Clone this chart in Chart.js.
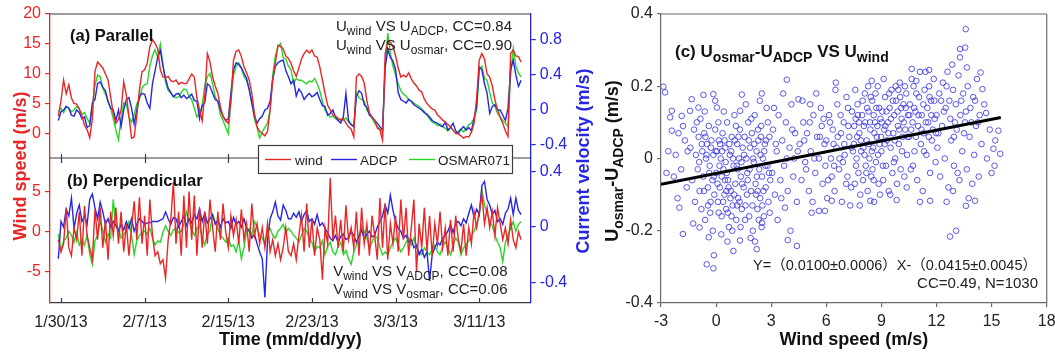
<!DOCTYPE html>
<html>
<head>
<meta charset="utf-8">
<script src="https://cdn.jsdelivr.net/npm/chart.js@4.4.1/dist/chart.umd.min.js"></script>
<style>
  html, body { margin: 0; padding: 0; background: #fff; }
  #wrap { position: relative; width: 1055px; height: 353px; }
  canvas { position: absolute; top: 0; }
</style>
</head>
<body>
<div id="wrap">
  <canvas id="parallel" width="600" height="158" style="left:0"></canvas>
  <canvas id="perp" width="600" height="353" style="left:0"></canvas>
  <canvas id="diff" width="455" height="353" style="left:600px"></canvas>
</div>
<script>
// hourly records resampled every 6 h, day 0 = 1/30/13
var firstDay = -0.25;
var stepDays = 0.25;

var dateTickDays = [0, 8, 16, 24, 32, 40];
var dateLabels = ['1/30/13', '2/7/13', '2/15/13', '2/23/13', '3/3/13', '3/11/13'];

// along-shore (parallel) components
var windPar = [3.0,
  5.5, 9.0, 6.7, 8.2,   6.0, 5.1, 5.0, 4.2,   3.0, 1.5, 0.7, -0.6,   2.5, 10.4, 12.0, 11.5,
  11.0, 10.0, 9.0, 6.2,   3.4, 1.8, 2.5, 4.0,   8.7, 6.5, 3.0, -0.7,   -0.5, 3.0, 7.3, 10.4,
  10.7, 11.8, 14.6, 15.7,   15.1, 14.2, 10.7, 9.5,   9.4, 9.6, 8.9, 8.7,   9.0, 8.3, 8.6, 8.4,
  8.4, 9.2, 10.0, 9.5,   6.0, 4.0, 2.2, 6.5,   13.4, 12.0, 9.5, 8.0,   6.8, 4.5, 2.9, 2.2,
  1.8, 5.5, 12.3, 13.8,   14.0, 12.9, 11.2, 10.2,   9.0, 6.8, 3.4, 1.2,   0.4, 0.1, -0.3, 0.4,
  4.0, 9.0, 11.8, 14.8,   14.6, 14.2, 13.0, 12.6,   11.8, 10.5, 9.6, 11.0,   12.5, 13.4, 14.0, 13.5,
  14.0, 13.0, 12.8, 11.2,   9.0, 6.8, 4.8, 4.0,   3.2, 3.0, 2.6, 2.3,   2.6, 1.8, 1.2, 0.8,
  -0.5, 9.5, 10.0, 9.6,   8.5, 5.6, 3.5, 2.8,   2.3, 1.0, 0.7, -1.0,   13.4, 15.5, 15.3, 14.5,
  13.0, 11.0, 9.5, 9.8,   9.5, 10.2, 9.2, 8.5,   8.0, 7.3, 7.0, 5.8,   5.1, 4.6, 4.2, 4.0,
  3.2, 2.8, 2.3, 2.0,   1.6, 1.2, 0.6, 0.1,   0.0, -0.3, -0.7, -0.4,   -0.5, 0.3, 1.8, 6.0,
  12.3, 13.4, 12.5, 10.0,   9.5, 8.0, 5.7, 4.0,   2.8, 1.8, 0.5, -0.4,   13.4, 14.0, 13.0, 12.9,
  12.0];

var adcpPar = [-0.12,
  -0.02, 0.00, 0.04, 0.02,   -0.06, -0.07, 0.00, -0.03,   -0.10, -0.08, -0.20, -0.18,   0.08, 0.12, 0.30, 0.32,
  0.26, 0.22, 0.10, 0.02,   0.00, -0.12, 0.00, -0.19,   0.00, 0.12, 0.14, 0.02,   -0.16, 0.00, 0.15, 0.19,
  0.18, 0.08, 0.02, 0.30,   0.45, 0.60, 0.68, 0.50,   0.36, 0.25, 0.20, 0.15,   0.18, 0.19, 0.14, 0.17,
  0.13, 0.15, 0.18, 0.11,   0.10, -0.10, 0.05, 0.08,   0.30, 0.27, 0.19, 0.12,   0.10, 0.00, -0.07, -0.12,
  -0.10, 0.20, 0.46, 0.54,   0.52, 0.48, 0.42, 0.36,   0.23, 0.08, -0.07, -0.15,   -0.10, -0.07, 0.00, 0.02,
  0.10, 0.35, 0.50, 0.54,   0.56, 0.57, 0.45, 0.38,   0.30, 0.34, 0.16, 0.24,   0.20, 0.12, 0.16, 0.19,
  0.15, 0.17, 0.20, 0.12,   0.05, 0.04, -0.06, -0.04,   0.00, -0.08, -0.12, -0.15,   -0.08, 0.19, -0.12, -0.17,
  -0.19, 0.15, 0.22, 0.19,   0.06, 0.03, -0.06, -0.08,   -0.12, -0.15, -0.19, -0.23,   0.49, 0.69, 0.60, 0.56,
  0.46, 0.20, 0.12, 0.10,   0.08, 0.12, 0.10, 0.06,   0.04, 0.02, 0.00, -0.03,   -0.05, -0.08, -0.12, -0.14,
  -0.15, -0.18, -0.19, -0.14,   -0.23, -0.20, -0.15, -0.24,   -0.27, -0.22, -0.19, -0.23,   -0.20, -0.24, -0.10, 0.04,
  0.49, 0.46, 0.30, 0.19,   -0.04, 0.04, 0.06, 0.00,   0.00, -0.06, -0.12, 0.02,   0.46, 0.57, 0.40, 0.27,
  0.34];

var osmarPar = [-0.02,
  0.02, -0.03, 0.04, 0.02,   -0.02, 0.00, 0.04, 0.01,   -0.05, -0.03, -0.10, -0.15,   0.05, 0.28, 0.40, 0.38,
  0.25, 0.18, 0.10, 0.02,   -0.10, -0.23, -0.34, -0.10,   0.08, 0.06, -0.08, -0.14,   -0.05, 0.07, 0.12, 0.25,
  0.29, 0.30, 0.50, 0.62,   0.69, 0.60, 0.75, 0.52,   0.32, 0.22, 0.19, 0.16,   0.14, 0.15, 0.20, 0.24,
  0.23, 0.15, 0.12, 0.02,   -0.08, -0.04, 0.05, 0.28,   0.38, 0.42, 0.30, 0.15,   0.10, -0.06, -0.12, -0.20,
  -0.27, 0.10, 0.40, 0.50,   0.54, 0.48, 0.38, 0.34,   0.24, 0.08, -0.10, -0.20,   -0.32, -0.25, -0.20, -0.15,
  0.00, 0.40, 0.62, 0.72,   0.76, 0.60, 0.58, 0.50,   0.46, 0.30, 0.36, 0.34,   0.34, 0.32, 0.30, 0.33,
  0.32, 0.36, 0.30, 0.22,   0.10, 0.00, -0.04, -0.08,   -0.07, -0.10, -0.12, -0.10,   -0.12, -0.09, -0.14, -0.16,
  -0.19, 0.20, 0.14, 0.12,   0.10, 0.00, -0.04, -0.10,   -0.15, -0.19, -0.22, -0.26,   0.46, 0.88, 0.65, 0.50,
  0.40, 0.30, 0.22, 0.18,   0.16, 0.12, 0.10, 0.08,   0.06, 0.04, 0.01, -0.02,   -0.06, -0.10, -0.14, -0.15,
  -0.18, -0.16, -0.19, -0.21,   -0.24, -0.20, -0.23, -0.27,   -0.24, -0.22, -0.25, -0.21,   -0.17, -0.15, -0.10, 0.00,
  0.46, 0.50, 0.36, 0.34,   0.20, 0.08, 0.04, -0.04,   -0.08, -0.12, -0.15, -0.19,   0.40, 0.70, 0.50, 0.42,
  0.38];

// cross-shore (perpendicular) components
var windPerp = [-1.0,
  -2.5, -1.5, 2.9, -2.0,   -3.0, 0.5, -1.0, 2.5,   -3.0, 3.2, -0.5, -2.0,   -3.5, 2.8, -1.0, 3.0,
  -2.0, 1.5, -3.5, 2.5,   -0.5, 3.0, -1.5, 2.5,   -2.5, 1.0, -3.0, 0.5,   3.8, -1.0, 4.3, -1.5,
  2.0, -3.0, 4.0, -0.5,   -3.0, -2.5, -4.0, -3.5,   -5.8, -1.0, 1.5, 6.2,   -1.5, 2.5, -3.0, 4.5,
  -2.0, 5.0, -1.0, 4.5,   -3.0, 3.0, -2.0, 2.5,   -1.5, 4.0, 0.5, -2.5,   2.5, -1.0, 3.5, 0.0,
  -2.0, 2.0, -0.5, 1.5,   -1.5, 2.8, -1.0, 1.0,   -2.5, 3.5, -0.5, 1.0,   -1.5, 0.5, -2.0, 1.0,
  -2.5, -1.0, -3.0, -1.5,   -3.5, -2.0, 0.5, -2.5,   -3.0, -1.5, -3.5, -0.5,   2.0, -2.5, 3.5, -2.0,
  1.5, -3.0, 0.5, -1.0,   -6.0, 0.5, -1.5, 6.7,   -1.0, 2.0, -2.0, 1.5,   -2.5, 3.3, -1.0, 0.5,
  -2.0, 2.5, -3.0, 3.0,   -1.5, 1.0, -3.0, 2.0,   -0.5, -3.5, 4.2, -2.0,   3.5, -3.5, 1.0, -1.5,
  2.0, -2.5, 4.0, -1.0,   3.0, -3.0, 0.5, 4.0,   -5.0, 1.0, -2.0, 3.0,   -2.5, 2.0, -3.0, 1.0,
  -1.5, 2.5, -2.0, 0.5,   -3.0, 1.5, -2.5, 2.0,   -1.0, -2.5, 1.0, -3.0,   0.5, -1.5, 2.5, 0.5,
  2.5, 4.7, 1.0, 3.0,   0.5, 2.5, -0.5, 3.0,   1.0, -1.0, 0.5, -1.5,   1.5, -1.0, -2.0, 0.0,
  -1.0];

var adcpPerp = [-0.23,
  0.04, 0.00, 0.13, 0.08,   0.21, -0.01, 0.10, 0.16,   0.04, 0.08, 0.02, 0.20,   0.24, 0.14, 0.06, 0.18,
  0.11, 0.02, 0.06, 0.00,   0.04, 0.01, -0.03, 0.02,   -0.02, 0.04, -0.01, 0.06,   -0.03, 0.02, 0.06, 0.04,
  0.02, 0.03, 0.03, 0.04,   0.04, 0.04, 0.05, 0.06,   0.11, 0.06, 0.02, 0.07,   0.06, 0.00, 0.04, 0.08,
  0.01, 0.06, 0.03, 0.09,   0.06, 0.13, 0.04, 0.10,   0.03, 0.06, 0.09, 0.02,   0.05, 0.00, 0.06, 0.03,
  0.04, -0.01, 0.07, 0.02,   0.04, 0.00, 0.06, -0.01,   -0.03, -0.08, -0.05, -0.12,   -0.18, -0.23, -0.51, -0.10,
  0.06, 0.11, 0.18, 0.08,   0.05, 0.16, 0.12, 0.06,   0.06, 0.10, 0.07, 0.11,   0.04, 0.09, 0.12, 0.04,
  0.06, 0.02, 0.09, 0.01,   0.03, -0.01, -0.04, -0.08,   -0.10, -0.06, -0.11, -0.07,   -0.05, -0.09, -0.08, -0.03,
  -0.06, -0.11, -0.07, -0.02,   -0.09, -0.05, -0.03, -0.07,   -0.06, 0.00, 0.04, 0.08,   0.16, 0.10, 0.23, 0.12,
  0.04, -0.01, -0.03, -0.08,   -0.06, -0.11, -0.09, -0.15,   -0.13, -0.20, -0.16, -0.22,   -0.18, -0.39, -0.20, -0.15,
  -0.11, -0.13, -0.08, -0.06,   -0.03, 0.02, -0.04, 0.03,   0.04, 0.01, 0.06, 0.03,   0.10, 0.16, 0.07, 0.13,
  0.09, 0.30, 0.33, 0.20,   0.16, 0.09, 0.12, 0.04,   0.06, 0.02, 0.10, 0.13,   0.21, 0.09, 0.21, 0.12,
  0.09];

var osmarPerp = [-0.05,
  -0.17, -0.10, -0.08, -0.03,   -0.06, -0.11, -0.04, -0.13,   -0.09, -0.13, -0.06, -0.20,   -0.27, -0.10, -0.06, 0.04,
  -0.02, -0.11, -0.05, -0.08,   0.20, 0.02, -0.01, -0.08,   -0.05, -0.03, 0.04, -0.06,   -0.20, -0.10, -0.06, -0.04,
  -0.03, -0.05, -0.01, -0.08,   -0.13, -0.10, -0.11, -0.04,   0.01, -0.03, -0.06, -0.02,   -0.01, -0.04, -0.03, 0.02,
  0.11, 0.04, -0.02, -0.06,   -0.01, 0.01, -0.08, -0.13,   -0.05, -0.03, 0.09, 0.04,   -0.01, -0.06, -0.08, -0.11,
  -0.08, -0.14, -0.13, -0.18,   -0.10, -0.23, -0.15, -0.03,   -0.01, -0.06, 0.04, 0.00,   -0.06, -0.08, -0.12, -0.03,
  -0.01, -0.06, -0.08, -0.03,   -0.01, 0.02, -0.04, -0.01,   -0.03, -0.06, -0.08, -0.11,   -0.06, -0.01, -0.03, -0.08,
  -0.11, -0.18, -0.14, -0.15,   -0.10, -0.20, -0.14, -0.11,   -0.18, -0.20, -0.14, -0.11,   -0.20, -0.17, -0.23, -0.27,
  -0.18, -0.13, -0.06, 0.01,   -0.03, -0.08, -0.15, -0.11,   -0.06, -0.08, -0.15, -0.20,   -0.18, -0.20, -0.15, -0.11,
  -0.08, -0.13, -0.18, -0.15,   -0.11, -0.08, -0.13, -0.08,   -0.15, -0.18, -0.20, -0.15,   -0.18, -0.20, -0.16, -0.13,
  -0.18, -0.20, -0.14, -0.11,   -0.15, -0.20, -0.13, -0.08,   -0.11, -0.20, -0.15, -0.13,   -0.10, -0.06, -0.03, 0.02,
  0.08, 0.27, 0.16, 0.10,   0.04, 0.01, -0.06, -0.11,   -0.15, -0.25, -0.11, -0.06,   -0.01, 0.04, -0.03, 0.02,
  0.04];

// U_osmar - U_ADCP (m/s) against U_wind (m/s)
var diffPoints = [
  [-2.87,0.199],[-2.78,0.183],[-2.41,0.132],[-2.5,0.114],[-1.87,0.118],[-2.41,0.077],[-2.05,0.07],[-1.42,0.132],
  [-1.33,0.164],[-0.96,0.141],[-0.69,0.176],[-0.15,0.178],[0.04,0.141],[-0.05,0.16],[1.4,0.177],[2.49,0.18],
  [3.85,0.218],[4.48,0.164],[5.12,0.15],[1.31,0.132],[13.59,0.358],[13.28,0.303],[13.56,0.307],[13.28,0.28],
  [10.65,0.248],[11.1,0.24],[11.6,0.245],[10.9,0.215],[8.47,0.215],[6.52,0.21],[13.65,0.252],[14.4,0.238],
  [14.5,0.192],[14.1,0.16],[14.7,0.126],[15.37,0.077],[15.1,0.027],[15.47,0.013],[15.16,-0.02],
  [-1.81,-0.209],[-0.51,-0.293],[-0.15,-0.304],[-0.12,-0.268],[0.94,-0.256],[2.21,-0.251],[3.9,-0.226],[4.4,-0.242],
  [3.75,-0.136],[5.2,-0.15],[5.6,-0.145],[-2.0,-0.136],[-0.9,-0.191],[-0.4,-0.218],[1.3,-0.227],[2.5,-0.178],
  [12.74,-0.216],[13.07,-0.2],[11.65,-0.117],[9.83,-0.115],[5.93,-0.145],[6.3,-0.117],[8.4,-0.117],[13.6,-0.131],
  [14.1,-0.117],[12.9,-0.09],
  [-2.6,0.02],[-2.3,-0.05],[-2.2,0.01],[-1.9,-0.03],[-1.7,0.05],[-1.6,-0.08],[-2.7,-0.04],[-1.8,0.09],[-2.1,-0.11],[-1.55,0.02],
  [-1.4,0.03],[-1.3,-0.06],[-1.2,0.08],[-1.15,-0.12],[-1.1,0.01],[-1.0,-0.03],[-0.95,0.06],[-0.9,-0.09],[-0.85,0.11],[-0.8,-0.14],
  [-0.75,0.02],[-0.7,-0.05],[-0.65,0.07],[-0.6,-0.17],[-0.55,0.0],[-0.5,0.04],[-0.45,-0.08],[-0.4,0.09],[-0.35,-0.02],[-0.3,-0.12],
  [-0.25,0.05],[-0.2,-0.06],[-0.15,0.01],[-0.1,-0.1],[-0.05,0.08],[-1.25,-0.18],[-0.62,0.13],[-0.32,-0.15],[-1.05,0.1],[-0.18,-0.2],
  [-0.92,-0.01],[-0.78,0.04],[-0.66,-0.09],[-0.52,0.01],[-0.44,-0.13],[-0.28,0.03],[-0.12,-0.05],[-0.02,0.02],[-0.58,0.06],[-0.38,-0.04],
  [0.0,-0.04],[0.05,0.02],[0.1,-0.12],[0.15,0.05],[0.2,-0.08],[0.25,0.0],[0.3,-0.16],[0.35,0.07],[0.4,-0.03],[0.45,-0.1],
  [0.5,0.03],[0.55,-0.14],[0.6,0.1],[0.65,-0.06],[0.7,-0.19],[0.75,0.01],[0.8,-0.09],[0.85,0.06],[0.9,-0.13],[0.95,-0.02],
  [1.0,0.12],[1.05,-0.07],[1.1,-0.17],[1.15,0.04],[1.2,-0.11],[1.25,0.0],[1.3,0.08],[1.35,-0.05],[1.4,-0.14],[1.45,0.03],
  [0.12,0.1],[0.28,-0.21],[0.42,0.13],[0.58,-0.04],[0.72,0.04],[0.88,-0.2],[1.02,0.05],[1.18,-0.03],[1.33,-0.19],[0.18,-0.02],
  [0.48,-0.06],[0.78,-0.11],[1.08,0.09],[0.62,-0.23],[0.33,0.02],
  [0.08,-0.07],[0.22,0.04],[0.38,-0.12],[0.52,-0.01],[0.68,-0.08],[0.82,0.02],[0.98,-0.1],[1.12,-0.02],[1.28,-0.12],[1.42,-0.07],
  [0.14,-0.15],[0.31,-0.05],[0.46,0.05],[0.64,-0.15],[0.92,0.0],[1.22,0.06],[1.38,-0.01],[0.56,-0.09],[0.84,-0.16],[1.14,-0.13],
  [1.5,-0.08],[1.55,0.06],[1.6,-0.13],[1.65,0.0],[1.7,-0.04],[1.75,0.1],[1.8,-0.16],[1.85,0.03],[1.9,-0.09],[1.95,0.07],
  [2.0,-0.2],[2.05,-0.01],[2.1,0.12],[2.15,-0.07],[2.2,0.02],[2.25,-0.14],[2.3,0.05],[2.35,-0.03],[2.4,-0.11],[2.45,0.09],
  [2.5,-0.05],[2.55,0.0],[2.6,-0.16],[2.65,0.04],[2.7,-0.08],[2.75,0.14],[2.8,-0.02],[2.85,-0.12],[2.9,0.06],[2.95,-0.06],
  [1.62,0.15],[1.88,-0.22],[2.12,-0.23],[2.38,0.16],[2.62,0.02],[2.18,-0.1],[1.72,-0.06],[2.28,0.08],[2.82,0.1],[2.48,-0.19],
  [1.52,0.01],[1.68,-0.1],[1.82,-0.03],[1.98,-0.13],[2.08,0.04],[2.22,-0.05],[2.32,-0.17],[2.42,0.01],[2.58,-0.09],[2.72,0.05],
  [2.88,-0.04],[1.58,-0.17],[1.78,0.05],[2.02,0.0],[2.26,-0.09],[2.52,-0.13],[2.68,-0.02],[2.92,-0.15],[1.92,0.11],[2.44,0.06],
  [3.05,-0.04],[3.1,0.08],[3.2,-0.1],[3.3,0.02],[3.4,0.12],[3.5,-0.06],[3.6,0.05],[3.7,-0.02],[3.8,0.1],[3.9,-0.09],
  [4.0,0.03],[4.1,0.15],[4.2,-0.05],[4.3,0.07],[4.4,-0.12],[3.35,-0.17],[3.65,0.18],[4.05,-0.2],[4.25,0.0],[3.15,0.14],
  [3.25,0.04],[3.55,-0.11],[3.85,0.0],[4.15,0.08],[4.45,0.02],[4.8,0.05],[5.1,0.1],[5.35,0.0],[5.65,0.06],[5.85,0.11],
  [4.55,0.04],[4.65,-0.06],[4.75,0.1],[4.85,-0.01],[4.95,0.07],[5.05,-0.09],[5.15,0.02],[5.3,0.12],[5.4,-0.04],[5.5,0.06],
  [5.6,0.0],[5.7,0.14],[5.8,-0.07],[5.9,0.04],[4.7,0.16],[5.25,-0.12],[5.75,0.09],[4.9,-0.03],[5.45,0.18],[5.95,-0.02],
  [6.0,0.05],[6.1,-0.06],[6.15,0.12],[6.25,0.0],[6.35,0.08],[6.45,-0.09],[6.55,0.03],[6.6,0.15],[6.7,-0.03],[6.8,0.07],
  [6.85,-0.12],[6.95,0.1],[7.0,0.01],[7.1,0.17],[7.15,-0.05],[7.25,0.06],[7.35,-0.08],[7.4,0.13],[7.45,0.02],[6.05,-0.11],
  [6.5,0.19],[6.9,-0.01],[7.2,0.09],[6.4,0.04],[7.3,-0.13],
  [6.2,0.1],[6.42,-0.02],[6.62,0.06],[6.78,0.12],[6.98,0.04],[7.18,0.14],[7.38,0.03],[6.3,-0.05],[6.72,0.0],[7.08,-0.07],
  [7.5,0.04],[7.55,-0.07],[7.6,0.11],[7.65,0.0],[7.7,0.15],[7.75,-0.04],[7.8,0.07],[7.85,-0.1],[7.9,0.02],[7.95,0.12],
  [8.0,-0.06],[8.05,0.09],[8.1,0.18],[8.15,-0.02],[8.2,0.05],[8.25,-0.09],[8.3,0.13],[8.35,0.0],[8.4,0.08],[8.45,-0.05],
  [8.5,0.16],[8.55,0.03],[8.6,-0.12],[8.65,0.1],[8.7,-0.01],[8.75,0.06],[8.8,0.2],[8.85,-0.07],[8.9,0.04],[8.95,0.11],
  [7.58,0.19],[7.82,-0.13],[8.08,0.01],[8.28,0.2],[8.52,-0.03],[8.72,0.14],[8.92,-0.1],[7.68,0.06],[8.38,0.1],[8.62,0.07],
  [7.52,0.09],[7.62,-0.02],[7.72,0.12],[7.88,0.05],[7.98,0.16],[8.12,0.1],[8.22,0.14],[8.32,0.04],[8.42,0.17],[8.48,0.02],
  [8.58,0.12],[8.68,0.18],[8.78,0.09],[8.88,0.14],[8.98,0.06],[7.78,0.1],[8.18,-0.04],[8.58,-0.06],[8.02,0.03],[8.82,0.01],
  [9.0,0.02],[9.05,0.13],[9.1,-0.06],[9.15,0.08],[9.2,0.17],[9.25,-0.02],[9.3,0.05],[9.35,0.1],[9.4,-0.09],[9.45,0.14],
  [9.5,0.03],[9.55,0.19],[9.6,-0.04],[9.65,0.07],[9.7,0.12],[9.75,0.0],[9.8,0.16],[9.85,-0.07],[9.9,0.09],[9.95,0.04],
  [10.0,0.21],[10.05,-0.03],[10.1,0.11],[10.15,0.06],[10.2,0.15],[10.25,-0.05],[10.3,0.08],[10.35,0.18],[10.4,0.01],[10.45,0.12],
  [9.12,0.22],[9.48,-0.1],[9.78,0.2],[10.08,0.14],[10.38,-0.08],
  [9.02,0.1],[9.18,0.04],[9.28,0.13],[9.38,0.07],[9.52,0.11],[9.62,0.16],[9.72,0.05],[9.88,0.13],[9.98,0.08],[10.12,0.02],
  [10.22,0.1],[10.32,0.14],[10.42,0.06],[9.08,-0.02],[9.42,0.18],[9.68,-0.01],[10.02,0.17],[10.28,0.2],[9.22,0.09],[9.92,0.19],
  [10.5,0.06],[10.55,0.15],[10.6,-0.03],[10.7,0.1],[10.75,0.2],[10.8,0.02],[10.85,0.13],[10.95,-0.06],[11.0,0.09],[11.05,0.17],
  [11.15,0.04],[11.2,0.12],[11.25,-0.09],[11.3,0.07],[11.35,0.19],[11.45,0.01],[11.5,0.14],[11.55,0.1],[11.65,-0.04],[11.7,0.16],
  [11.75,0.05],[11.85,0.22],[11.9,0.11],[11.95,-0.01],[10.65,0.22],[11.1,-0.12],[11.4,0.24],[11.8,0.08],[10.9,0.18],[11.6,0.2],
  [10.52,0.12],[10.62,0.08],[10.78,0.14],[10.88,0.06],[11.02,0.12],[11.18,0.08],[11.28,0.15],[11.42,0.1],[11.58,0.06],[11.72,0.12],
  [11.88,0.16],[11.98,0.07],[10.72,-0.02],[11.32,0.02],[11.62,0.17],
  [12.0,0.12],[12.05,0.03],[12.15,0.18],[12.2,-0.05],[12.3,0.09],[12.35,0.21],[12.45,0.0],[12.5,0.14],[12.6,0.24],[12.65,-0.08],
  [12.75,0.11],[12.8,0.05],[12.9,0.19],[12.95,-0.02],[13.05,0.15],[13.1,0.08],[13.2,0.23],[13.25,-0.06],[13.3,0.12],[13.4,0.02],
  [13.45,0.18],[12.25,0.16],[12.55,-0.12],[12.85,0.26],[13.15,-0.04],
  [12.1,0.07],[12.4,0.13],[12.7,0.16],[13.0,0.1],[13.35,0.16],[13.6,0.13],[13.9,0.1],[12.55,0.2],[12.95,0.06],[13.5,0.07],
  [13.55,0.1],[13.65,-0.03],[13.7,0.2],[13.8,0.06],[13.85,0.14],[13.95,-0.07],[14.0,0.17],[14.05,0.01],[14.15,0.09],[14.2,0.22],
  [14.3,-0.05],[14.35,0.12],[14.45,0.04],[14.6,0.15],[14.75,0.0],[14.9,0.08],[15.0,-0.04],[15.2,0.05],[13.75,-0.11],[14.25,0.1]
];

// least-squares fit  Y = slope*X + intercept
var fitSlope = 0.0100;
var fitIntercept = -0.0415;
var fitRange = [-3, 15.5];

var RED = 'rgb(232,38,38)';
var BLUE = 'rgb(38,38,228)';
var GREEN = 'rgb(40,214,40)';
var FRAME = '#3c3c3c';
var FONT = '"Liberation Sans", Arial, "Noto Sans CJK SC", sans-serif';

Chart.defaults.font.family = FONT;
Chart.defaults.font.size = 16;
Chart.defaults.color = '#222';

var dayMin = -1.05, dayMax = 44.92;

function toSeries(vals) {
  return vals.map(function (v, i) { return {x: firstDay + i * stepDays, y: v}; });
}
function setTicks(vals) {
  return function (s) { s.ticks = vals.map(function (v) { return {value: v}; }); };
}
function fixWidth(w) {
  return function (s) { s.width = w; s.paddingTop = 0; s.paddingBottom = 0; };
}
function fixHeight(h) {
  return function (s) { s.height = h; s.paddingLeft = 0; s.paddingRight = 0; };
}
function fmt(v) { return v === 0 ? '0' : String(Math.round(v * 10) / 10); }

function hline(ctx, x1, y1, x2, y2) {
  ctx.beginPath(); ctx.moveTo(x1, y1); ctx.lineTo(x2, y2); ctx.stroke();
}

// draws text runs, a leading "_" marks a subscript run
function richText(ctx, parts, x, y, align, size, subSize, weight) {
  var segs = parts.map(function (p) {
    var sub = p.charAt(0) === '_';
    return {text: sub ? p.slice(1) : p, sub: sub};
  });
  var fontOf = function (s) { return weight + ' ' + (s.sub ? subSize : size) + 'px ' + FONT; };
  var total = 0;
  segs.forEach(function (s) { ctx.font = fontOf(s); s.w = ctx.measureText(s.text).width; total += s.w; });
  var cx = align === 'right' ? x - total : (align === 'center' ? x - total / 2 : x);
  ctx.textAlign = 'left';
  ctx.textBaseline = 'alphabetic';
  segs.forEach(function (s) {
    ctx.font = fontOf(s);
    ctx.fillText(s.text, cx, y + (s.sub ? size * 0.27 : 0));
    cx += s.w;
  });
}
function rotatedText(ctx, parts, cx, cy, size, subSize, color) {
  ctx.save();
  ctx.translate(cx, cy);
  ctx.rotate(-Math.PI / 2);
  ctx.fillStyle = color;
  richText(ctx, parts, 0, size * 0.36, 'center', size, subSize, 'bold');
  ctx.restore();
}

var lineStyle = {pointRadius: 0, borderWidth: 1.4, tension: 0, fill: false};

function leftAxis(min, max, ticks, color) {
  return {
    position: 'left', min: min, max: max,
    afterBuildTicks: setTicks(ticks), afterFit: fixWidth(50),
    ticks: {color: color, padding: 4, callback: fmt, font: {size: 16}},
    grid: {drawOnChartArea: false, color: color, tickLength: 5, lineWidth: 1.2},
    border: {color: color, width: 1.3}
  };
}
function rightAxis(min, max, ticks, color) {
  return {
    position: 'right', min: min, max: max,
    afterBuildTicks: setTicks(ticks), afterFit: fixWidth(69.3),
    ticks: {color: color, padding: 4, callback: fmt, font: {size: 16}},
    grid: {drawOnChartArea: false, color: color, tickLength: 5, lineWidth: 1.2},
    border: {color: color, width: 1.3}
  };
}

// panel (a)
var parallelDecor = {
  id: 'parallelDecor',
  afterDraw: function (chart) {
    var ctx = chart.ctx, a = chart.chartArea;
    ctx.save();
    ctx.strokeStyle = FRAME; ctx.lineWidth = 1.2;
    hline(ctx, a.left, a.top, a.right, a.top);
    ctx.fillStyle = '#111';
    richText(ctx, ['(a) Parallel'], 70, 41, 'left', 16.5, 16.5, 'bold');
    ctx.fillStyle = '#222';
    richText(ctx, ['U', '_wind', ' VS U', '_ADCP', ', CC=0.84'], 512, 31, 'right', 15, 12, 'normal');
    richText(ctx, ['U', '_wind', ' VS U', '_osmar', ', CC=0.90'], 512, 50, 'right', 15, 12, 'normal');
    ctx.restore();
  }
};

new Chart(document.getElementById('parallel'), {
  type: 'line',
  data: {
    datasets: [
      Object.assign({label: 'wind', data: toSeries(windPar), yAxisID: 'yWind', borderColor: RED}, lineStyle),
      Object.assign({label: 'ADCP', data: toSeries(adcpPar), yAxisID: 'yCur', borderColor: BLUE}, lineStyle),
      Object.assign({label: 'OSMAR071', data: toSeries(osmarPar), yAxisID: 'yCur', borderColor: GREEN}, lineStyle)
    ]
  },
  options: {
    responsive: false, animation: false, devicePixelRatio: 1,
    layout: {padding: {top: 14, left: 0, right: 0, bottom: 0}},
    plugins: {legend: {display: false}, tooltip: {enabled: false}},
    scales: {
      x: {type: 'linear', display: false, min: dayMin, max: dayMax},
      yWind: leftAxis(-4, 20, [0, 5, 10, 15, 20], RED),
      yCur: rightAxis(-0.549, 1.097, [-0.4, 0, 0.4, 0.8], BLUE)
    }
  },
  plugins: [parallelDecor]
});

// panel (b) plus the shared legend and axis titles
var perpDecor = {
  id: 'perpDecor',
  afterDraw: function (chart) {
    var ctx = chart.ctx, a = chart.chartArea, xs = chart.scales.x;
    ctx.save();
    ctx.strokeStyle = FRAME; ctx.lineWidth = 1.2;
    hline(ctx, a.left, a.top, a.right, a.top);
    dateTickDays.forEach(function (d) {
      var px = Math.round(xs.getPixelForValue(d)) + 0.5;
      hline(ctx, px, a.top - 4, px, a.top + 5);
      hline(ctx, px, a.bottom, px, a.bottom - 5);
    });

    ctx.fillStyle = '#111';
    richText(ctx, ['(b) Perpendicular'], 67, 186, 'left', 16.5, 16.5, 'bold');
    ctx.fillStyle = '#222';
    richText(ctx, ['V', '_wind', ' VS V', '_ADCP', ', CC=0.08'], 507.5, 276, 'right', 15, 12, 'normal');
    richText(ctx, ['V', '_wind', ' VS V', '_osmar', ', CC=0.06'], 507.5, 294, 'right', 15, 12, 'normal');

    // legend box
    var lx = 258, ly = 145, lw = 254, lh = 28;
    ctx.fillStyle = '#fff';
    ctx.fillRect(lx, ly, lw, lh);
    ctx.strokeStyle = FRAME; ctx.lineWidth = 1.2;
    ctx.strokeRect(lx + 0.5, ly + 0.5, lw, lh);
    var items = [['wind', RED, 265, 291, 295], ['ADCP', BLUE, 331, 357, 360], ['OSMAR071', GREEN, 409, 435, 438]];
    items.forEach(function (it) {
      ctx.strokeStyle = it[1]; ctx.lineWidth = 1.4;
      hline(ctx, it[2], 159.5, it[3], 159.5);
      ctx.fillStyle = '#222';
      richText(ctx, [it[0]], it[4], 164.5, 'left', 13.5, 13.5, 'normal');
    });

    rotatedText(ctx, ['Wind speed (m/s)'], 20, 166, 18, 18, RED);
    rotatedText(ctx, ['Current velocity (m/s)'], 583, 161, 18, 18, BLUE);
    ctx.restore();
  }
};

new Chart(document.getElementById('perp'), {
  type: 'line',
  data: {
    datasets: [
      Object.assign({label: 'wind', data: toSeries(windPerp), yAxisID: 'yWind', borderColor: RED}, lineStyle),
      Object.assign({label: 'ADCP', data: toSeries(adcpPerp), yAxisID: 'yCur', borderColor: BLUE}, lineStyle),
      Object.assign({label: 'OSMAR071', data: toSeries(osmarPerp), yAxisID: 'yCur', borderColor: GREEN}, lineStyle)
    ]
  },
  options: {
    responsive: false, animation: false, devicePixelRatio: 1,
    layout: {padding: {top: 158, left: 0, right: 0, bottom: 0}},
    plugins: {legend: {display: false}, tooltip: {enabled: false}},
    scales: {
      x: {
        type: 'linear', min: dayMin, max: dayMax,
        afterBuildTicks: setTicks(dateTickDays), afterFit: fixHeight(50),
        ticks: {
          color: '#222', padding: 10, autoSkip: false, maxRotation: 0,
          callback: function (v, i) { return dateLabels[i]; }
        },
        grid: {display: false, drawTicks: false},
        border: {display: true, color: FRAME, width: 1.2},
        title: {display: true, text: 'Time (mm/dd/yy)', color: '#111',
                font: {size: 18, weight: 'bold'}, padding: {top: 0, bottom: 2}}
      },
      yWind: leftAxis(-8.9, 9.2, [-5, 0, 5], RED),
      yCur: rightAxis(-0.55, 0.50, [-0.4, 0, 0.4], BLUE)
    }
  },
  plugins: [perpDecor]
});

// panel (c)
var diffDecor = {
  id: 'diffDecor',
  afterDraw: function (chart) {
    var ctx = chart.ctx, a = chart.chartArea;
    ctx.save();
    ctx.strokeStyle = '#6a6a6a'; ctx.lineWidth = 1.2;
    hline(ctx, a.left, a.top, a.right, a.top);
    hline(ctx, a.right, a.top, a.right, a.bottom);
    ctx.fillStyle = '#111';
    richText(ctx, ['(c) U', '_osmar', '-U', '_ADCP', ' VS U', '_wind'], 75, 57, 'left', 17, 14, 'bold');
    ctx.fillStyle = '#222';
    richText(ctx, ['Y=\uFF08' + fitSlope.toFixed(4) + '\u00B10.0006\uFF09X-\uFF08' +
                   Math.abs(fitIntercept).toFixed(4) + '\u00B10.0045\uFF09'], 437, 270, 'right', 14.5, 14.5, 'normal');
    richText(ctx, ['CC=0.49, N=1030'], 438, 288, 'right', 15, 15, 'normal');
    rotatedText(ctx, ['U', '_osmar', '-U', '_ADCP', ' (m/s)'], 12, 161, 18, 14, '#111');
    ctx.restore();
  }
};

new Chart(document.getElementById('diff'), {
  type: 'scatter',
  data: {
    datasets: [
      {
        type: 'line', label: 'fit',
        data: fitRange.map(function (x) { return {x: x, y: fitSlope * x + fitIntercept}; }),
        borderColor: '#000', borderWidth: 3, pointRadius: 0, tension: 0
      },
      {
        label: 'diff',
        data: diffPoints.map(function (p) { return {x: p[0], y: p[1]}; }),
        pointStyle: 'circle', pointRadius: 2.8, borderWidth: 1,
        borderColor: 'rgba(60,60,230,0.85)', backgroundColor: 'rgba(0,0,0,0)'
      }
    ]
  },
  options: {
    responsive: false, animation: false, devicePixelRatio: 1,
    layout: {padding: {top: 14, left: 0, right: 8.3, bottom: 0}},
    plugins: {legend: {display: false}, tooltip: {enabled: false}},
    scales: {
      x: {
        type: 'linear', min: -3, max: 18,
        afterBuildTicks: setTicks([-3, 0, 3, 6, 9, 12, 15, 18]), afterFit: fixHeight(50),
        ticks: {color: '#222', padding: 5, autoSkip: false, maxRotation: 0},
        grid: {drawOnChartArea: false, color: '#6a6a6a', tickLength: 4, lineWidth: 1.2},
        border: {color: '#6a6a6a', width: 1.2},
        title: {display: true, text: 'Wind speed (m/s)', color: '#111',
                font: {size: 18, weight: 'bold'}, padding: {top: 0, bottom: 2}}
      },
      y: {
        type: 'linear', min: -0.4, max: 0.4,
        afterBuildTicks: setTicks([-0.4, -0.2, 0, 0.2, 0.4]), afterFit: fixWidth(61),
        ticks: {color: '#222', padding: 4, callback: fmt},
        grid: {drawOnChartArea: false, color: '#6a6a6a', tickLength: 4, lineWidth: 1.2},
        border: {color: '#6a6a6a', width: 1.2}
      }
    }
  },
  plugins: [diffDecor]
});
</script>
</body>
</html>
